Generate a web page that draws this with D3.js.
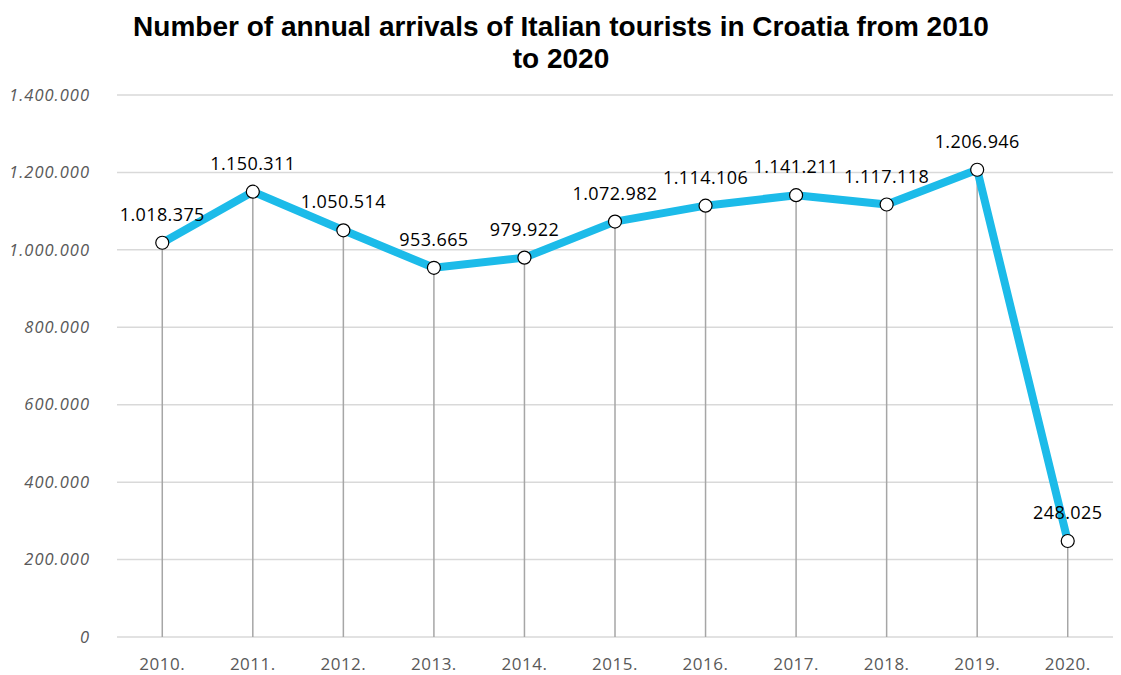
<!DOCTYPE html>
<html>
<head>
<meta charset="utf-8">
<script src="https://cdn.jsdelivr.net/npm/d3@7/dist/d3.min.js"></script>
<style>
  html, body { margin: 0; padding: 0; background: #fff; }
  svg { display: block; }
</style>
</head>
<body>
<svg id="chart" width="1121" height="675"></svg>
<script>
// Arrivals of Italian tourists in Croatia, 2010–2020
const years = ["2010.", "2011.", "2012.", "2013.", "2014.", "2015.", "2016.", "2017.", "2018.", "2019.", "2020."];
const arrivals = [1018375, 1150311, 1050514, 953665, 979922, 1072982, 1114106, 1141211, 1117118, 1206946, 248025];
const yTicks = [0, 200000, 400000, 600000, 800000, 1000000, 1200000, 1400000];

const svg = d3.select("#chart");
const margin = { left: 117, right: 8, top: 95, bottom: 38 };
const W = 1121, H = 675;

const x = d3.scaleBand().domain(years).range([margin.left, W - margin.right]);
const y = d3.scaleLinear().domain([0, 1400000]).range([H - margin.bottom, margin.top]);

// Thousands separated by dots
const fmt = v => d3.format(",")(v).replace(/,/g, ".");

// Title
const title = svg.append("text")
  .attr("text-anchor", "middle")
  .attr("font-family", "Liberation Sans, Arial, sans-serif")
  .attr("font-weight", "bold")
  .attr("font-size", 28)
  .attr("fill", "#000");
title.append("tspan").attr("x", 561).attr("y", 36).text("Number of annual arrivals of Italian tourists in Croatia from 2010");
title.append("tspan").attr("x", 561).attr("y", 68).text("to 2020");

// Gridlines
svg.append("g").selectAll("line").data(yTicks).join("line")
  .attr("x1", margin.left).attr("x2", W - margin.right)
  .attr("y1", d => y(d)).attr("y2", d => y(d))
  .attr("stroke", "#d9d9d9").attr("stroke-width", 1.5);

// Y axis labels
const yAxis = d3.axisLeft(y).tickValues(yTicks).tickFormat(d => d === 0 ? "0" : fmt(d)).tickSize(0).tickPadding(27);
const gy = svg.append("g").attr("transform", `translate(${margin.left},0)`).call(yAxis);
gy.select(".domain").remove();
gy.selectAll("text")
  .attr("font-family", "Open Sans, sans-serif")
  .attr("font-style", "italic")
  .attr("font-size", 16.5)
  .attr("letter-spacing", 1)
  .attr("fill", "#595959");

// X axis labels
const xAxis = d3.axisBottom(x).tickSize(0);
const gx = svg.append("g").attr("transform", `translate(0,${y(0)})`).call(xAxis);
gx.select(".domain").remove();
gx.selectAll("text")
  .attr("y", 33)
  .attr("dy", null)
  .attr("font-family", "Open Sans, sans-serif")
  .attr("font-size", 17)
  .attr("letter-spacing", 0.5)
  .attr("fill", "#595959");

const cx = d => x(d) + x.bandwidth() / 2;
const pts = years.map((yr, i) => ({ yr, v: arrivals[i] }));

// Drop lines from each point to the baseline
svg.append("g").selectAll("line").data(pts).join("line")
  .attr("x1", d => cx(d.yr)).attr("x2", d => cx(d.yr))
  .attr("y1", d => y(d.v)).attr("y2", y(0))
  .attr("stroke", "#a6a6a6").attr("stroke-width", 1.5);

// Series line
const line = d3.line().x(d => cx(d.yr)).y(d => y(d.v));
svg.append("path").datum(pts)
  .attr("d", line)
  .attr("fill", "none")
  .attr("stroke", "#1cbbe9")
  .attr("stroke-width", 8)
  .attr("stroke-linejoin", "round");

// Markers
svg.append("g").selectAll("circle").data(pts).join("circle")
  .attr("cx", d => cx(d.yr)).attr("cy", d => y(d.v))
  .attr("r", 6.5)
  .attr("fill", "#fff")
  .attr("stroke", "#000")
  .attr("stroke-width", 1.2);

// Data labels
svg.append("g").selectAll("text").data(pts).join("text")
  .attr("x", d => cx(d.yr))
  .attr("y", d => y(d.v) - 22)
  .attr("text-anchor", "middle")
  .attr("font-family", "Open Sans, sans-serif")
  .attr("font-size", 18)
  .attr("letter-spacing", 0.4)
  .attr("fill", "#000")
  .text(d => fmt(d.v));
</script>
</body>
</html>
